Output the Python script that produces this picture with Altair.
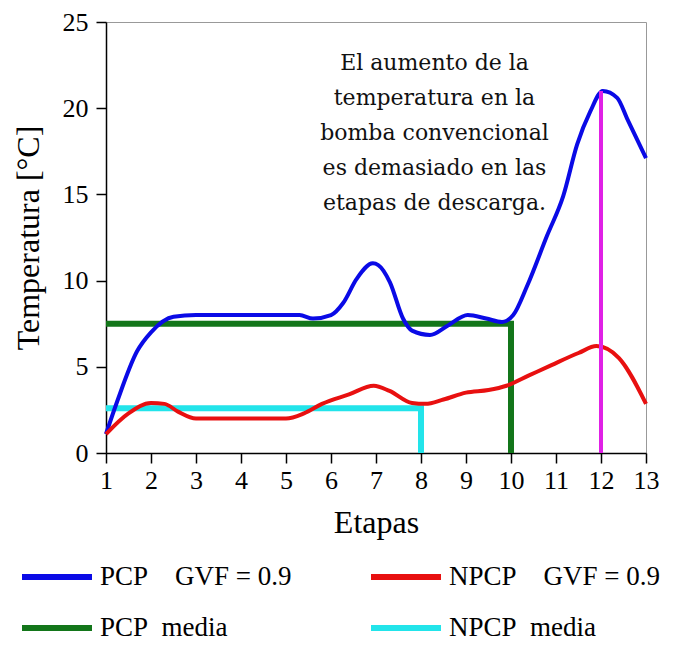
import altair as alt
import pandas as pd

# PCP GVF = 0.9 (blue)
pcp_x = [1, 1.25, 1.69, 2.0, 2.5, 3.0, 4.0, 5.0, 5.3, 5.6, 6.0, 6.27, 6.57, 6.93, 7.05, 7.31, 7.6, 7.8, 8.2, 8.6, 9.04, 9.45, 9.8, 10.05, 10.36, 10.8, 11.16, 11.47, 11.76, 12.04, 12.36, 12.58, 13.0]
pcp_y = [1.1, 3.0, 5.9, 7.0, 7.9, 8.0, 8.0, 8.0, 8.0, 7.8, 8.0, 8.7, 10.1, 11.0, 10.9, 9.9, 7.8, 7.1, 6.85, 7.4, 8.0, 7.8, 7.6, 8.0, 9.7, 12.6, 14.9, 17.9, 19.8, 21.0, 20.6, 19.4, 17.1]

# NPCP GVF = 0.9 (red)
npcp_x = [1, 1.5, 2.0, 2.3, 2.6, 3.0, 4.0, 5.0, 5.4, 5.8, 6.4, 6.95, 7.3, 7.8, 8.1, 8.5, 9.0, 9.5, 9.9, 10.4, 10.9, 11.5, 11.9, 12.4, 13.0]
npcp_y = [1.1, 2.3, 2.9, 2.85, 2.4, 2.0, 2.0, 2.0, 2.3, 2.85, 3.4, 3.9, 3.6, 2.9, 2.85, 3.1, 3.5, 3.65, 3.9, 4.5, 5.1, 5.8, 6.2, 5.5, 2.85]

# Means
pcp_media = 7.5
pcp_media_end = 10
npcp_media = 2.6
npcp_media_end = 8

# Peak marker
peak_x = 12
peak_y = 21.0

sp3 = "\u00a0\u00a0\u00a0\u00a0"
sp2 = "\u00a0\u00a0"
series_names = ["PCP" + sp3 + "GVF = 0.9", "NPCP" + sp3 + "GVF = 0.9",
                "PCP" + sp2 + "media", "NPCP" + sp2 + "media"]
series_colors = ["#0a0ae6", "#e81010", "#13761a", "#22e4ea"]

x_ticks = list(range(1, 14))
y_ticks = [0, 5, 10, 15, 20, 25]

annotation = "El aumento de la\ntemperatura en la\nbomba convencional\nes demasiado en las\netapas de descarga."
ann_x = 8.3
ann_y = 22.62

curves = pd.concat([
    pd.DataFrame({"x": pcp_x, "y": pcp_y, "s": series_names[0], "o": range(len(pcp_x))}),
    pd.DataFrame({"x": npcp_x, "y": npcp_y, "s": series_names[1], "o": range(len(npcp_x))}),
])
means = pd.DataFrame({
    "x": [1, pcp_media_end, pcp_media_end, 1, npcp_media_end, npcp_media_end],
    "y": [pcp_media, pcp_media, 0, npcp_media, npcp_media, 0],
    "s": [series_names[2]] * 3 + [series_names[3]] * 3,
    "o": [0, 1, 2, 0, 1, 2],
})
peak = pd.DataFrame({"x": [peak_x, peak_x], "y": [0, peak_y], "o": [0, 1]})
ann = pd.DataFrame({"x": [ann_x], "y": [ann_y], "t": [annotation]})

serif = "Liberation Serif"

xs = alt.Scale(domain=[1, 13], nice=False, zero=False)
ys = alt.Scale(domain=[0, 25], nice=False)
color = alt.Color("s:N", scale=alt.Scale(domain=series_names, range=series_colors),
                  legend=alt.Legend(
                      title=None, orient="none", legendX=-87, legendY=517,
                      columns=2, columnPadding=67, rowPadding=-25,
                      symbolType="stroke", symbolSize=4900, symbolStrokeWidth=6,
                      labelFont=serif, labelFontSize=27, labelColor="black",
                      labelLimit=400, labelOffset=5, direction="horizontal"))

xenc = alt.X("x:Q", scale=xs, axis=alt.Axis(values=x_ticks, title="Etapas", grid=False,
                                            format="d", labelFlush=False))
yenc = alt.Y("y:Q", scale=ys, axis=alt.Axis(values=y_ticks, title="Temperatura [°C]", grid=False,
                                            labelFlush=False))

l_curves = alt.Chart(curves).mark_line(strokeWidth=4, interpolate="monotone").encode(
    x=xenc, y=yenc, color=color, order="o:Q")
l_means = alt.Chart(means).mark_line(strokeWidth=6, interpolate="linear", strokeCap="butt").encode(
    x="x:Q", y="y:Q", color=alt.Color("s:N"), order="o:Q")
l_peak = alt.Chart(peak).mark_line(strokeWidth=4, color="#e020e6").encode(
    x="x:Q", y="y:Q", order="o:Q")
l_text = alt.Chart(ann).mark_text(font="DejaVu Serif", fontSize=22, lineBreak="\n", lineHeight=35,
                                  align="center", baseline="middle", color="#111").encode(
    x="x:Q", y="y:Q", text="t:N")

chart = alt.layer(l_means, l_curves, l_peak, l_text).properties(
    width=540, height=431,
    autosize=alt.AutoSizeParams(type="none"),
    padding={"left": 98, "top": 14, "right": 26, "bottom": 188},
).configure_view(stroke="#999", strokeWidth=1).configure_axis(
    domainColor="black", domainWidth=1.5, tickColor="black", tickWidth=1.5, tickSize=10,
    labelFont=serif, labelFontSize=26, labelColor="black", labelPadding=4,
    titleFont=serif, titleFontSize=32, titleFontWeight="normal", titleColor="black",
).configure_axisY(labelPadding=8, titlePadding=17).configure_axisX(titlePadding=14)

chart.save("out.html", embed_options={"renderer": "svg", "actions": False})
